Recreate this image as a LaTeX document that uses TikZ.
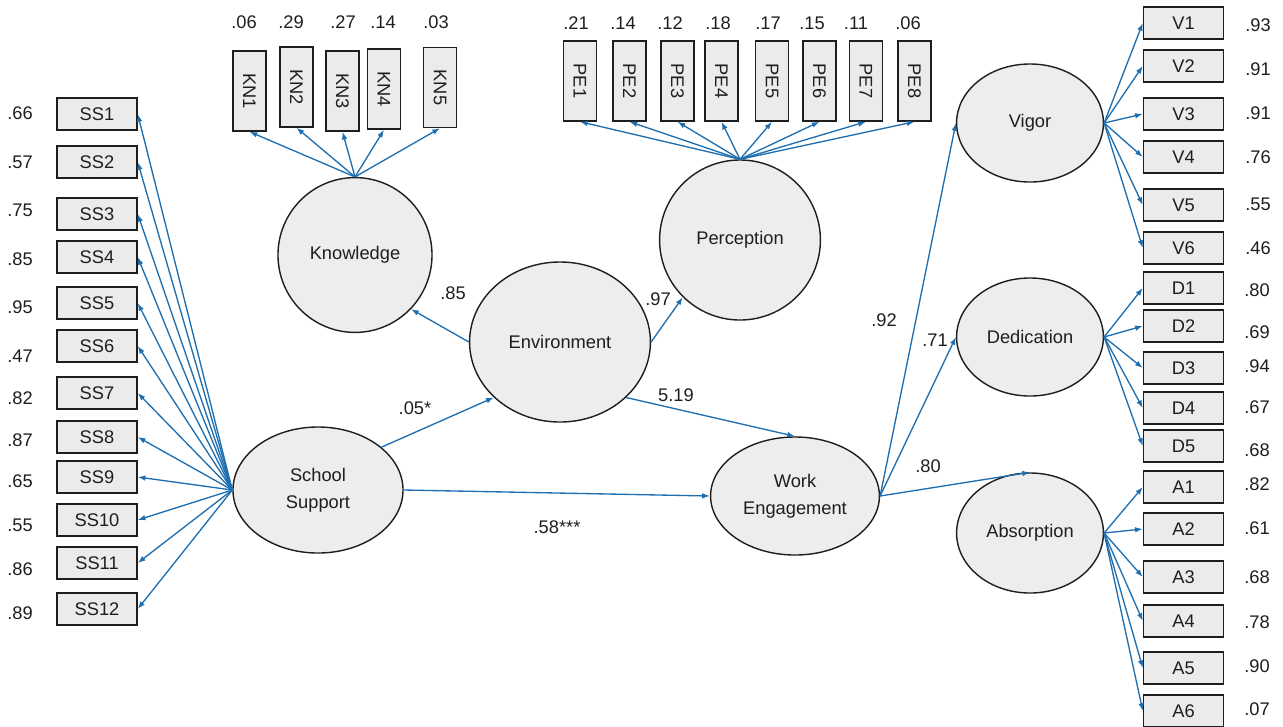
\documentclass[tikz,border=0pt]{standalone}
\usepackage{fontspec}
\setmainfont{Liberation Sans}
\usetikzlibrary{shapes.geometric,arrows.meta}
\definecolor{pathblue}{RGB}{31,111,176}
\definecolor{boxgray}{RGB}{235,235,235}
\definecolor{latgray}{RGB}{237,237,237}
\definecolor{inkgray}{RGB}{30,30,30}

\begin{document}
\begin{tikzpicture}[x=0.025cm, y=-0.025cm, font=\fontsize{13}{19}\selectfont, text=inkgray]
\tikzstyle{obs} = [draw=inkgray, line width=1pt, fill=boxgray, minimum width=2cm, minimum height=0.8cm, inner sep=0pt]
\tikzstyle{obsup} = [obs, minimum width=0.83cm, minimum height=2cm]
\tikzstyle{lat} = [ellipse, draw=inkgray, line width=1pt, fill=latgray, inner sep=0pt, align=center]
\tikzstyle{val} = [inner sep=0pt]
\tikzstyle{load} = [draw=pathblue, line width=0.95pt, -{Latex[length=5.5pt,width=4pt]}]
\useasboundingbox (0,0) rectangle (1283,726);

% latent variables
\node[lat, minimum width=4.25cm, minimum height=3.15cm] (sup) at (318,490) {School\\Support};
\node[lat, minimum width=3.85cm, minimum height=3.87cm] (know) at (355,255) {Knowledge};
\node[lat, minimum width=4.02cm, minimum height=4cm] (perc) at (740,240) {Perception};
\node[lat, minimum width=4.52cm, minimum height=4cm] (env) at (560,342) {Environment};
\node[lat, minimum width=4.22cm, minimum height=2.95cm] (we) at (795,496) {Work\\\makebox[0pt]{Engagement}};
\node[lat, minimum width=3.67cm, minimum height=2.95cm] (vig) at (1030,123) {Vigor};
\node[lat, minimum width=3.67cm, minimum height=2.95cm] (ded) at (1030,337) {Dedication};
\node[lat, minimum width=3.67cm, minimum height=3cm] (abs) at (1030,533) {Absorption};

% school support items
\foreach \i/\y/\vl/\vy in {1/114/.66/113, 2/162/.57/162, 3/214/.75/210, 4/257/.85/259,
  5/303/.95/307, 6/346/.47/356, 7/393/.82/398, 8/437/.87/440, 9/477/.65/481,
  10/520/.55/525, 11/563/.86/569, 12/609/.89/613}
{
  \node[obs] (ss\i) at (97,\y) {SS\i};
  \node[val] (ssv\i) at (20,\vy) {\vl};
  \draw[load] (sup.west) -- (ss\i.east);
}

% knowledge items
\foreach \i/\x/\y/\vl/\vx in {1/249.5/91/.06/244, 2/296.5/87/.29/291, 3/342.5/91/.27/343,
  4/384/89/.14/383, 5/440/87.5/.03/436}
{
  \node[obsup] (kn\i) at (\x,\y) {\rotatebox{-90}{KN\i}};
  \node[val] (knv\i) at (\vx,22) {\vl};
  \draw[load] (know.north) -- (kn\i.south);
}

% perception items
\foreach \i/\x/\vl/\vx in {1/580/.21/576, 2/629.5/.14/623, 3/677.5/.12/670, 4/721.5/.18/718,
  5/772/.17/768, 6/819.5/.15/812, 7/866/.11/856, 8/914.5/.06/908}
{
  \node[obsup] (pe\i) at (\x,81) {\rotatebox{-90}{PE\i}};
  \node[val] (pev\i) at (\vx,23) {\vl};
  \draw[load] (perc.north) -- (pe\i.south);
}

% work engagement items
\foreach \i/\y/\vl/\vy in {1/23/.93/25, 2/66/.91/69, 3/114/.91/113, 4/157/.76/157,
  5/205/.55/204, 6/248/.46/248}
{
  \node[obs] (v\i) at (1183.5,\y) {V\i};
  \node[val] (vv\i) at (1258,\vy) {\vl};
  \draw[load] (vig.east) -- (v\i.west);
}
\foreach \i/\y/\vl/\vy in {1/288/.80/290, 2/326/.69/332, 3/368/.94/366, 4/408/.67/407, 5/446/.68/450}
{
  \node[obs] (d\i) at (1183.5,\y) {D\i};
  \node[val] (dv\i) at (1257,\vy) {\vl};
  \draw[load] (ded.east) -- (d\i.west);
}
\foreach \i/\y/\vl/\vy in {1/487/.82/484, 2/529/.61/528, 3/577/.68/577, 4/621/.78/622,
  5/668/.90/666, 6/711/.07/709}
{
  \node[obs] (a\i) at (1183.5,\y) {A\i};
  \node[val] (av\i) at (1257,\vy) {\vl};
  \draw[load] (abs.east) -- (a\i.west);
}

% structural paths
\draw[load] (env.west) -- (know.-44);
\draw[load] (env.east) -- (perc.-135);
\draw[load] (sup.34) -- (env.220);
\draw[load] (env.-40) -- (we.north);
\draw[load] (sup.east) -- (we.west);
\draw[load] (we.east) -- (vig.west);
\draw[load] (we.east) -- (ded.west);
\draw[load] (we.east) -- (abs.north);

\node[val] (l85) at (453,293) {.85};
\node[val] (l97) at (658,299) {.97};
\node[val] (l05) at (415,408) {.05*};
\node[val] (l519) at (676,395) {5.19};
\node[val] (l58) at (557,527) {.58***};
\node[val] (l92) at (884,320) {.92};
\node[val] (l71) at (935,340) {.71};
\node[val] (l80) at (928,466) {.80};
\end{tikzpicture}
\end{document}
